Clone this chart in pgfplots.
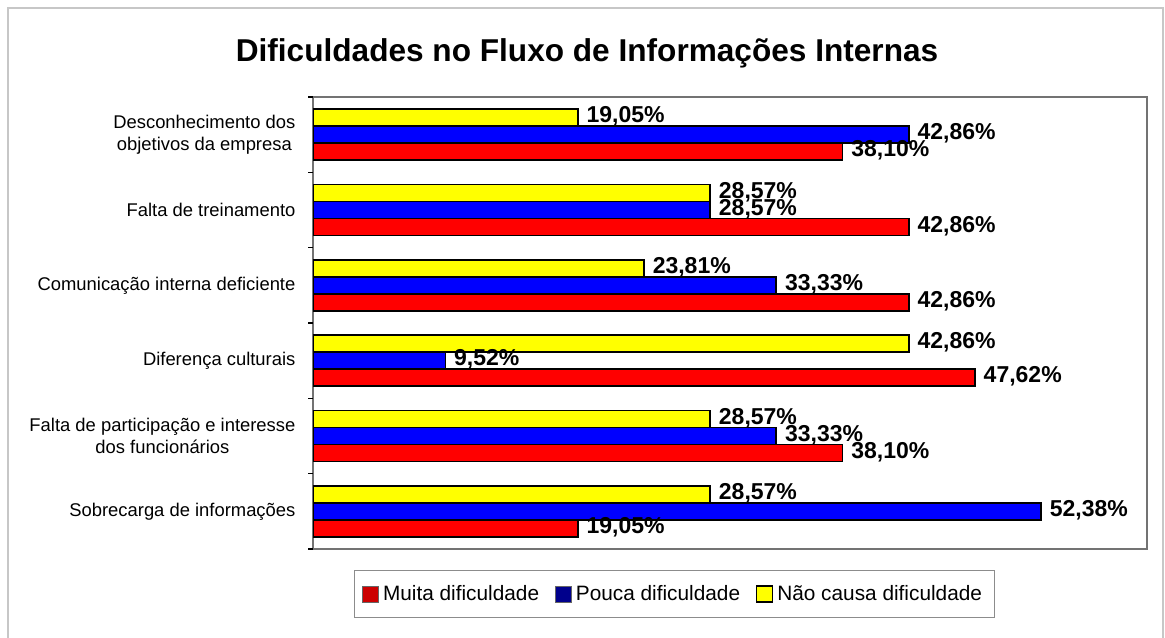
\documentclass[border=0pt]{standalone}
\usepackage{pgfplots}
\pgfplotsset{compat=1.18}
\usepackage{fontspec}
\setmainfont{Liberation Sans}
\definecolor{barred}{RGB}{255,0,0}
\definecolor{barblue}{RGB}{0,0,255}
\definecolor{baryel}{RGB}{255,255,0}
\begin{document}
\begin{tikzpicture}
\useasboundingbox (0,0) rectangle (582.5pt,318.5pt);
\draw[line width=1pt, color=black!22] (4pt,-1pt) -- (4pt,314.5pt) -- (581.5pt,314.5pt) -- (581.5pt,-1pt);
\node[font=\fontsize{15.8}{18}\selectfont\bfseries] at (293.5pt,292pt) {Dificuldades no Fluxo de Informações Internas};
\begin{axis}[
  at={(156.5pt,44pt)}, anchor=south west,
  scale only axis, width=417pt, height=226pt,
  xbar, bar width=0.226,
  xmin=0, xmax=60, ymin=-0.5, ymax=5.5,
  xtick=\empty,
  ytick={0,...,5},
  yticklabels={Sobrecarga de informações,{Falta de participação e interesse\\dos funcionários},Diferença culturais,Comunicação interna deficiente,Falta de treinamento,{Desconhecimento dos\\objetivos da empresa}},
  yticklabel style={font=\fontsize{9.2}{11}\selectfont, align=center, xshift=-1pt},
  ytick style={draw=none},
  extra y ticks={-0.5,0.5,1.5,2.5,3.5,4.5,5.5},
  extra y tick labels={},
  extra y tick style={ytick style={draw=black, line width=0.6pt}, major tick length=2.5pt, tick align=outside},
  ytick pos=left,
  axis line style={draw=black!55, line width=1pt},
  point meta=x,
  /pgf/number format/assume math mode=true,
  nodes near coords={\pgfmathprintnumber[fixed,zerofill,precision=2,use comma]{\pgfplotspointmeta}\%},
  nodes near coords style={font=\fontsize{11.5}{13}\selectfont\bfseries, anchor=west, inner sep=0pt, xshift=4pt, yshift=0.5pt, text=black},
  legend style={at={(0.433,-0.0996)}, anchor=center, draw=black!45, line width=0.5pt,
    font=\fontsize{10.4}{12}\selectfont, inner xsep=4pt, inner ysep=5pt,
    /tikz/every even column/.append style={column sep=6pt}},
  legend columns=-1,
]
\addplot[fill=barred, draw=black, line width=0.8pt, bar shift=-0.226,
  legend image code/.code={\draw[fill=red!80!black, draw=black!60, line width=0.4pt] (0pt,-4pt) rectangle (8pt,4pt);}]
  coordinates {(19.05,0) (38.10,1) (47.62,2) (42.86,3) (42.86,4) (38.10,5)};
\addplot[fill=barblue, draw=black, line width=0.8pt, bar shift=0,
  legend image code/.code={\draw[fill=blue!55!black, draw=black!60, line width=0.4pt] (0pt,-4pt) rectangle (8pt,4pt);}]
  coordinates {(52.38,0) (33.33,1) (9.52,2) (33.33,3) (28.57,4) (42.86,5)};
\addplot[fill=baryel, draw=black, line width=0.8pt, bar shift=0.226,
  legend image code/.code={\draw[fill=baryel, draw=black, line width=0.6pt] (0pt,-4pt) rectangle (8pt,4pt);}]
  coordinates {(28.57,0) (28.57,1) (42.86,2) (23.81,3) (28.57,4) (19.05,5)};
\legend{Muita dificuldade,Pouca dificuldade,Não causa dificuldade}
\end{axis}
\end{tikzpicture}
\end{document}
